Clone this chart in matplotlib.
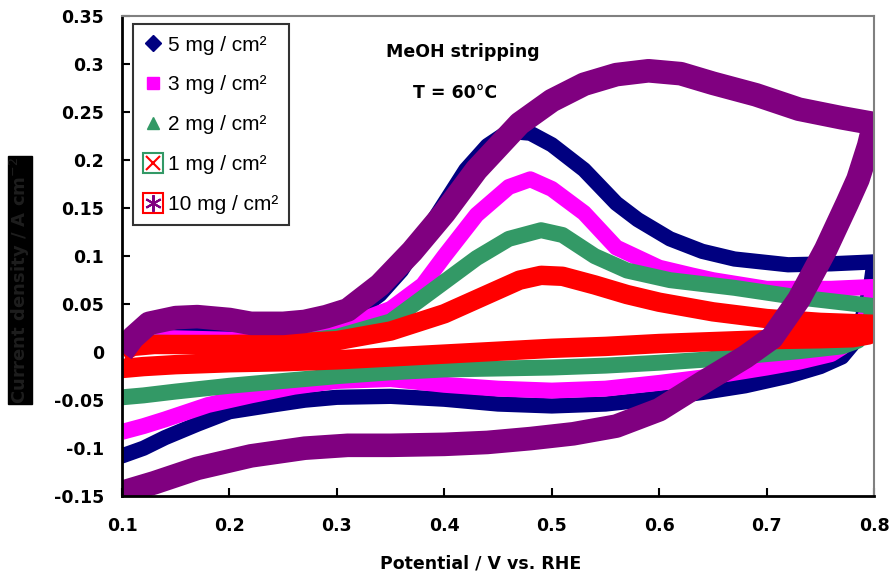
import numpy as np
import matplotlib.pyplot as plt
from matplotlib.lines import Line2D

plt.rcParams['font.family'] = ['Liberation Sans', 'DejaVu Sans']

# cyclic voltammograms: forward sweep 0.1 -> 0.8, then back
x_10 = [0.1, 0.11, 0.125, 0.15, 0.17, 0.2, 0.22, 0.25, 0.27, 0.29, 0.31, 0.34, 0.37, 0.4,
        0.43, 0.47, 0.5, 0.53, 0.56, 0.59, 0.62, 0.65, 0.69, 0.73, 0.77, 0.8,
        0.795, 0.785, 0.775, 0.755, 0.73, 0.705, 0.68, 0.64, 0.6, 0.56, 0.52, 0.48, 0.44,
        0.4, 0.35, 0.31, 0.27, 0.22, 0.17, 0.13, 0.1]
y_10 = [0.0, 0.015, 0.03, 0.036, 0.037, 0.034, 0.03, 0.03, 0.032, 0.037, 0.044, 0.07, 0.105, 0.145,
        0.19, 0.238, 0.262, 0.279, 0.289, 0.293, 0.29, 0.28, 0.268, 0.253, 0.244, 0.238,
        0.215, 0.18, 0.155, 0.107, 0.055, 0.015, -0.005, -0.032, -0.06, -0.077, -0.085, -0.09, -0.094,
        -0.096, -0.097, -0.097, -0.1, -0.108, -0.121, -0.136, -0.146]

x_5 = [0.1, 0.11, 0.13, 0.15, 0.2, 0.25, 0.28, 0.31, 0.34, 0.36, 0.38, 0.4, 0.42, 0.44, 0.46,
       0.48, 0.5, 0.53, 0.56, 0.58, 0.61, 0.64, 0.67, 0.72, 0.76, 0.8,
       0.797, 0.79, 0.785, 0.77, 0.75, 0.72, 0.68, 0.64, 0.6, 0.55, 0.5, 0.45, 0.4, 0.35,
       0.3, 0.27, 0.24, 0.2, 0.17, 0.14, 0.12, 0.1]
y_5 = [0.005, 0.018, 0.022, 0.02, 0.016, 0.017, 0.022, 0.035, 0.06, 0.085, 0.12, 0.155, 0.19, 0.215, 0.23,
       0.228, 0.216, 0.19, 0.155, 0.138, 0.118, 0.105, 0.097, 0.091, 0.092, 0.094,
       0.07, 0.04, 0.015, -0.005, -0.015, -0.025, -0.035, -0.042, -0.048, -0.054, -0.056, -0.054, -0.049, -0.046,
       -0.047, -0.05, -0.055, -0.062, -0.075, -0.089, -0.1, -0.108]

x_3 = [0.1, 0.11, 0.13, 0.2, 0.25, 0.3, 0.35, 0.38, 0.4, 0.43, 0.46, 0.48, 0.5, 0.53, 0.56,
       0.6, 0.63, 0.65, 0.7, 0.76, 0.8,
       0.795, 0.785, 0.77, 0.76, 0.73, 0.7, 0.65, 0.6, 0.55, 0.5, 0.45, 0.4, 0.35,
       0.3, 0.26, 0.22, 0.18, 0.14, 0.12, 0.1]
y_3 = [0.0, 0.012, 0.015, 0.013, 0.014, 0.024, 0.045, 0.07, 0.1, 0.143, 0.172, 0.18, 0.17, 0.145, 0.109,
       0.088, 0.08, 0.075, 0.066, 0.066, 0.068,
       0.045, 0.02, 0.005, -0.002, -0.01, -0.016, -0.025, -0.032, -0.038, -0.04, -0.038, -0.034, -0.028,
       -0.03, -0.036, -0.045, -0.055, -0.07, -0.077, -0.083]

x_2 = [0.1, 0.11, 0.13, 0.2, 0.25, 0.3, 0.35, 0.39, 0.43, 0.46, 0.49, 0.51, 0.54, 0.57,
       0.61, 0.67, 0.73, 0.8,
       0.795, 0.785, 0.77, 0.73, 0.68, 0.64, 0.6, 0.55, 0.5, 0.45, 0.4, 0.35,
       0.3, 0.25, 0.2, 0.15, 0.12, 0.1]
y_2 = [0.0, 0.008, 0.01, 0.008, 0.009, 0.016, 0.032, 0.065, 0.098, 0.118, 0.127, 0.122, 0.1, 0.085,
       0.075, 0.067, 0.057, 0.048,
       0.03, 0.012, 0.006, 0.001, -0.004, -0.008, -0.011, -0.014, -0.016, -0.017, -0.018, -0.021,
       -0.025, -0.03, -0.035, -0.041, -0.045, -0.047]

x_1 = [0.1, 0.11, 0.13, 0.2, 0.25, 0.3, 0.35, 0.4, 0.44, 0.47, 0.49, 0.51, 0.54, 0.57,
       0.6, 0.65, 0.7, 0.75, 0.8,
       0.795, 0.78, 0.75, 0.7, 0.65, 0.6, 0.55, 0.5, 0.45, 0.4, 0.35,
       0.3, 0.25, 0.2, 0.15, 0.12, 0.1]
y_1 = [0.0, 0.006, 0.008, 0.008, 0.009, 0.012, 0.022, 0.04, 0.06, 0.075, 0.08, 0.079, 0.07, 0.06,
       0.052, 0.042, 0.035, 0.031, 0.029,
       0.018, 0.015, 0.014, 0.013, 0.011, 0.009, 0.006, 0.004, 0.001, -0.002, -0.005,
       -0.008, -0.01, -0.011, -0.013, -0.015, -0.017]

labels = ['5 mg / cm²', '3 mg / cm²', '2 mg / cm²', '1 mg / cm²', '10 mg / cm²']
xticks = [0.1, 0.2, 0.3, 0.4, 0.5, 0.6, 0.7, 0.8]
yticks = [-0.15, -0.1, -0.05, 0, 0.05, 0.1, 0.15, 0.2, 0.25, 0.3, 0.35]

navy = '#000080'
pink = '#FF00FF'
green = '#339966'
red = '#FF0000'
purple = '#800080'
bold = dict(family=['DejaVu Sans'], fontweight='bold')

fig = plt.figure(figsize=(8.91, 5.73), dpi=100)
ax = fig.add_axes([0.137, 0.134, 0.844, 0.838])

ax.plot(x_5, y_5, color=navy, lw=11, solid_joinstyle='round', solid_capstyle='round')
ax.plot(x_3, y_3, color=pink, lw=11.5, solid_joinstyle='round', solid_capstyle='butt')
ax.plot(x_2, y_2, color=green, lw=11.5, solid_joinstyle='round', solid_capstyle='butt')
ax.plot(x_1, y_1, color=red, lw=14, solid_joinstyle='round', solid_capstyle='butt')
ax.plot(x_10, y_10, color=purple, lw=17, solid_joinstyle='round', solid_capstyle='butt')

ax.set_xlim(0.1, 0.8)
ax.set_ylim(-0.15, 0.35)
ax.set_xticks(xticks)
ax.set_yticks(yticks)
ax.set_xticklabels(['%g' % v for v in xticks], fontsize=12.5, **bold)
ax.set_yticklabels(['%g' % v for v in yticks], fontsize=12.5, **bold)
ax.tick_params(axis='both', direction='in', length=6, width=1.5)
ax.tick_params(axis='y', pad=13)
ax.tick_params(axis='x', pad=15)

for s in ['left', 'bottom']:
    ax.spines[s].set_linewidth(2)
    ax.spines[s].set_color('black')
for s in ['top', 'right']:
    ax.spines[s].set_linewidth(1.5)
    ax.spines[s].set_color('#808080')

fig.text(481 / 891, 1 - 563 / 573, 'Potential / V vs. RHE', fontsize=12.5, ha='center', va='center', **bold)
fig.text(20 / 891, 1 - 280 / 573, 'Current density / A cm$^{-2}$', rotation=90, ha='center', va='center',
         fontsize=13, color='#1e1e1e', bbox=dict(facecolor='black', edgecolor='black', pad=0), **bold)

ax.text(0.417, 0.313, 'MeOH stripping', fontsize=12.5, ha='center', va='center', **bold)
ax.text(0.41, 0.27, 'T = 60°C', fontsize=12.5, ha='center', va='center', **bold)

handles = [
    Line2D([], [], ls='none', marker='D', ms=8, color=navy),
    Line2D([], [], ls='none', marker='s', ms=8, color=pink),
    Line2D([], [], ls='none', marker='^', ms=9, color=green),
    (Line2D([], [], ls='none', marker='s', ms=14, mfc='none', mec=green, mew=1.5),
     Line2D([], [], ls='none', marker='x', ms=10, color=red, mew=1.5)),
    (Line2D([], [], ls='none', marker='s', ms=14, mfc='none', mec=red, mew=1.5),
     Line2D([], [], ls='none', marker=(6, 2, 0), ms=12, color=purple, mew=1.5)),
]
leg = ax.legend(handles, labels, loc='upper left', bbox_to_anchor=(0.015, 0.983),
                fontsize=15, frameon=True, fancybox=False, handlelength=0.8,
                handletextpad=0.3, labelspacing=1.0, borderpad=0.55, borderaxespad=0)
leg.get_frame().set_edgecolor('black')
leg.get_frame().set_linewidth(1.5)

fig.savefig('out.png', dpi=100)
